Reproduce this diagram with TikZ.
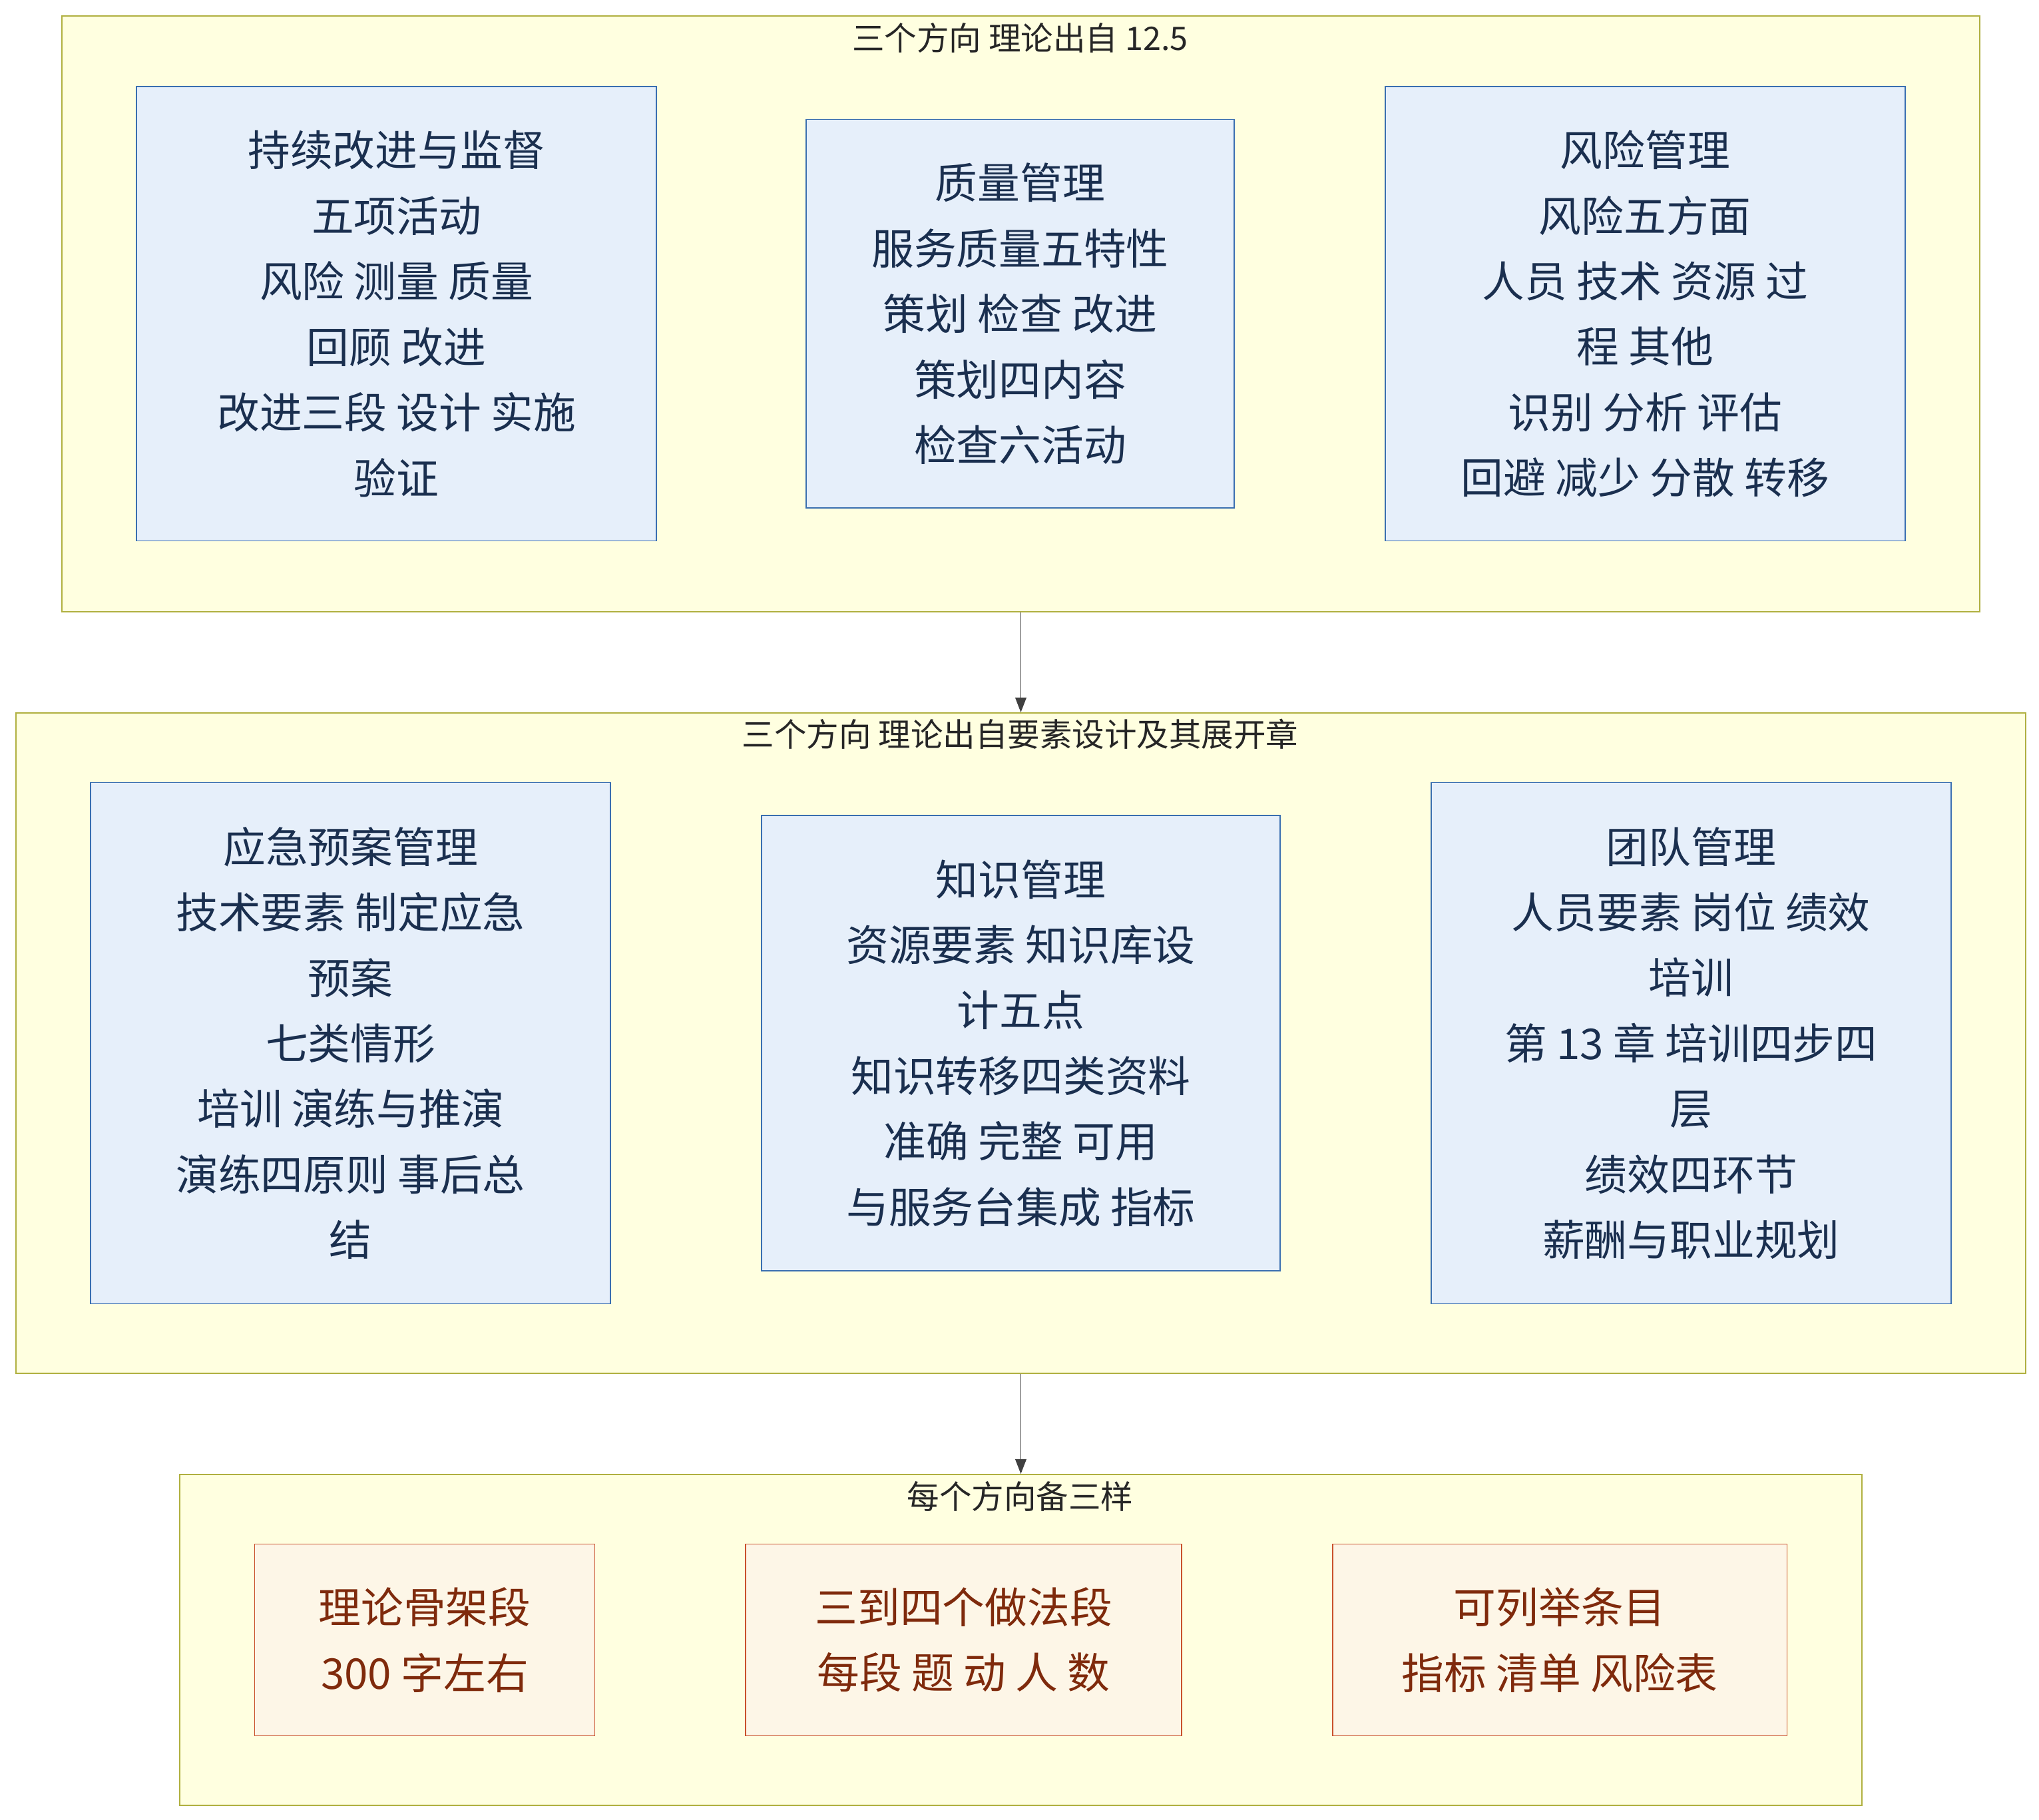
\documentclass[tikz,border=0pt]{standalone}
\usepackage{fontspec}
\setmainfont{Noto Sans CJK SC}
\usetikzlibrary{arrows.meta}
\definecolor{clfill}{HTML}{FFFFE0}
\definecolor{cldraw}{HTML}{B0B040}
\definecolor{bfill}{HTML}{E6EFFA}
\definecolor{bdraw}{HTML}{3A6FB0}
\definecolor{btext}{HTML}{1A2F4F}
\definecolor{ofill}{HTML}{FDF6E7}
\definecolor{odraw}{HTML}{C9512B}
\definecolor{otext}{HTML}{7F2A0C}
\tikzset{
 cl/.style={draw=cldraw,fill=clfill,line width=1.2pt},
 cltitle/.style={font=\fontsize{35}{40}\selectfont,text=black!85},
 bx/.style={draw=bdraw,fill=bfill,line width=1.2pt,align=center,text=btext,font=\fontsize{46}{71}\selectfont,inner sep=0pt},
 ox/.style={draw=odraw,fill=ofill,line width=1.2pt,align=center,text=otext,font=\fontsize{46}{71}\selectfont,inner sep=0pt},
 arr/.style={draw=black!75,line width=1.3pt,-{Triangle[length=16pt,width=12pt]}}
}
\newcommand{\mybox}[7]{% name style x1 y1 x2 y2 text
 \node[#2,minimum width={(#5-#3)*0.05cm},minimum height={(#6-#4)*0.05cm}] (#1) at ({(#3+#5)/2*0.05},{-(#4+#6)/2*0.05}) {#7};}
\begin{document}
\begin{tikzpicture}
\useasboundingbox (0,0) rectangle (1553*0.05,-1386*0.05);
\mybox{c1}{cl}{47}{12}{1508}{466}{}
\mybox{c2}{cl}{12}{543}{1543}{1046}{}
\mybox{c3}{cl}{137}{1123}{1418}{1375}{}
\node[cltitle] (t1) at (777*0.05,-29*0.05) {三个方向 理论出自 12.5};
\node[cltitle] (t2) at (777*0.05,-559*0.05) {三个方向 理论出自要素设计及其展开章};
\node[cltitle] (t3) at (777*0.05,-1140*0.05) {每个方向备三样};
\mybox{a1}{bx}{104}{66}{500}{412}{持续改进与监督\\五项活动\\风险 测量 质量\\回顾 改进\\改进三段 设计 实施\\验证}
\mybox{a2}{bx}{614}{91}{940}{387}{质量管理\\服务质量五特性\\策划 检查 改进\\策划四内容\\检查六活动}
\mybox{a3}{bx}{1055}{66}{1451}{412}{风险管理\\风险五方面\\人员 技术 资源 过\\程 其他\\识别 分析 评估\\回避 减少 分散 转移}
\mybox{b1}{bx}{69}{596}{465}{993}{应急预案管理\\技术要素 制定应急\\预案\\七类情形\\培训 演练与推演\\演练四原则 事后总\\结}
\mybox{b2}{bx}{580}{621}{975}{968}{知识管理\\资源要素 知识库设\\计五点\\知识转移四类资料\\准确 完整 可用\\与服务台集成 指标}
\mybox{b3}{bx}{1090}{596}{1486}{993}{团队管理\\人员要素 岗位 绩效\\培训\\第 13 章 培训四步四\\层\\绩效四环节\\薪酬与职业规划}
\mybox{o1}{ox}{194}{1176}{453}{1322}{理论骨架段\\300 字左右}
\mybox{o2}{ox}{568}{1176}{900}{1322}{三到四个做法段\\每段 题 动 人 数}
\mybox{o3}{ox}{1015}{1176}{1361}{1322}{可列举条目\\指标 清单 风险表}
\draw[arr] (c1.south) -- (c2.north);
\draw[arr] (c2.south) -- (c3.north);
\end{tikzpicture}
\end{document}
